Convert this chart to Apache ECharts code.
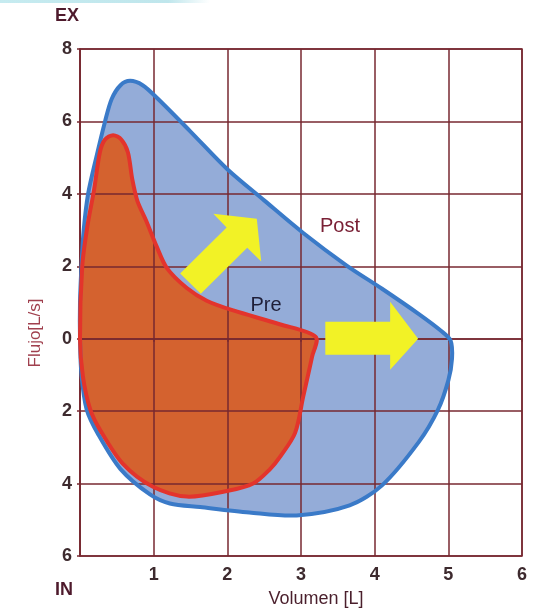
<!DOCTYPE html>
<html>
<head>
<meta charset="utf-8">
<script src="https://cdn.jsdelivr.net/npm/echarts@6/dist/echarts.min.js"></script>
<style>html,body{margin:0;padding:0;background:#fff;}#c{width:552px;height:612px;}</style>
</head>
<body>
<div id="c"></div>
<script>
// Axis ticks
const xTicks = [0, 1, 2, 3, 4, 5, 6];
const yTicks = [-6, -4, -2, 0, 2, 4, 6, 8];

// Post (blue) loop: volume [L], flow [L/s]
const postVol  = [0.00, 0.00, 0.02, 0.05, 0.11, 0.22, 0.34, 0.43, 0.55, 0.68, 0.85, 1.05, 1.50, 2.00, 2.50, 3.03, 3.62, 4.10, 4.60, 4.90, 5.03, 5.05, 5.00, 4.86, 4.60, 4.10, 3.66, 2.94, 2.30, 1.63, 1.22, 0.95, 0.55, 0.25, 0.09, 0.02];
const postFlow = [0.00, 1.00, 2.00, 3.00, 4.00, 5.00, 6.00, 6.62, 7.00, 7.12, 7.00, 6.64, 5.72, 4.68, 3.82, 2.92, 2.02, 1.38, 0.68, 0.22, -0.05, -0.55, -1.15, -1.96, -2.85, -4.05, -4.60, -4.88, -4.80, -4.65, -4.55, -4.30, -3.60, -2.65, -1.95, -1.00];

// Pre (red) loop
const preVol  = [0.00, 0.03, 0.10, 0.19, 0.27, 0.34, 0.45, 0.56, 0.65, 0.71, 0.78, 0.90, 1.04, 1.18, 1.45, 1.72, 2.08, 2.71, 3.20, 3.15, 3.03, 2.92, 2.72, 2.58, 2.35, 2.01, 1.45, 0.99, 0.58, 0.27, 0.14, 0.04];
const preFlow = [0.00, 2.00, 3.10, 4.10, 5.15, 5.50, 5.62, 5.50, 5.15, 4.40, 3.80, 3.25, 2.55, 1.95, 1.40, 1.05, 0.78, 0.40, 0.05, -0.50, -1.60, -2.60, -3.25, -3.60, -4.00, -4.20, -4.36, -4.09, -3.45, -2.51, -1.96, -1.05];

// Arrows
const arrow1Vol  = [1.36, 1.64, 2.27, 2.46, 2.40, 1.81, 1.99];
const arrow1Flow = [1.80, 1.24, 2.51, 2.13, 3.31, 3.45, 3.07];
const arrow2Vol  = [3.33, 4.21, 4.21, 4.59, 4.21, 4.21, 3.33];
const arrow2Flow = [0.47, 0.47, 1.02, 0.00, -0.86, -0.44, -0.44];

function polySeries(xs, ys, style, z, smooth) {
  return {
    type: 'custom', coordinateSystem: 'cartesian2d', z: z, silent: true,
    data: [[xs[0], ys[0]]],
    renderItem: function (params, api) {
      const pts = xs.map((x, i) => api.coord([x, ys[i]]));
      return { type: 'polygon', shape: { points: pts, smooth: smooth }, style: style };
    }
  };
}

const grid = '#772830';
const chart = echarts.init(document.getElementById('c'));
chart.setOption({
  backgroundColor: '#fff',
  animation: false,
  grid: { left: 80, right: 30, top: 49, bottom: 56, show: true, borderColor: grid, borderWidth: 1.5 },
  xAxis: {
    type: 'value', min: xTicks[0], max: xTicks[xTicks.length - 1], interval: 1, z: 3,
    axisLine: { show: true, lineStyle: { color: grid, width: 1.5 } },
    axisTick: { show: true, length: 3, lineStyle: { color: grid, width: 1.5 } },
    splitLine: { show: true, lineStyle: { color: grid, width: 1.5 } },
    axisLabel: { margin: 10, color: '#3d2a2e', fontSize: 18, fontFamily: 'Liberation Sans', fontWeight: 'bold',
      formatter: v => (v === 0 ? '' : String(v)) }
  },
  yAxis: {
    type: 'value', min: yTicks[0], max: yTicks[yTicks.length - 1], interval: 2, z: 3,
    axisLine: { show: true, lineStyle: { color: grid, width: 1.5 } },
    axisTick: { show: true, length: 3, lineStyle: { color: grid, width: 1.5 } },
    splitLine: { show: true, lineStyle: { color: grid, width: 1.5 } },
    axisLabel: { margin: 8, color: '#3d2a2e', fontSize: 18, fontFamily: 'Liberation Sans', fontWeight: 'bold',
      formatter: v => String(Math.abs(v)) }
  },
  series: [
    polySeries(postVol, postFlow, { fill: '#94acd8' }, 1, 0.3),
    polySeries(preVol, preFlow, { fill: '#d4622f' }, 2, 0.3),
    polySeries(postVol, postFlow, { fill: 'none', stroke: '#3a7ac8', lineWidth: 4, lineJoin: 'round' }, 5, 0.3),
    polySeries(preVol, preFlow, { fill: 'none', stroke: '#e3342c', lineWidth: 4, lineJoin: 'round' }, 6, 0.3),
    polySeries(arrow1Vol, arrow1Flow, { fill: '#f2f226' }, 7, 0),
    polySeries(arrow2Vol, arrow2Flow, { fill: '#f2f226' }, 7, 0)
  ],
  graphic: [
    { type: 'rect', left: 0, top: 0, shape: { width: 210, height: 3 },
      style: { fill: new echarts.graphic.LinearGradient(0, 0, 1, 0, [{ offset: 0, color: '#c6ebf0' }, { offset: 0.8, color: '#bfe6ec' }, { offset: 1, color: '#ffffff' }]) } },
    { type: 'text', x: 67, y: 16, z: 20, style: { text: 'EX', fill: '#4e1a2c', font: 'bold 18px "Liberation Sans Narrow", "Liberation Sans"', align: 'center', verticalAlign: 'middle' } },
    { type: 'text', x: 64, y: 590, z: 20, style: { text: 'IN', fill: '#4e1a2c', font: 'bold 18px "Liberation Sans Narrow", "Liberation Sans"', align: 'center', verticalAlign: 'middle' } },
    { type: 'text', x: 316, y: 599, z: 20, style: { text: 'Volumen [L]', fill: '#4a1f2c', font: '18px "Liberation Sans Narrow", "Liberation Sans"', align: 'center', verticalAlign: 'middle' } },
    { type: 'text', x: 35, y: 333, rotation: Math.PI / 2, z: 20, style: { text: 'Flujo[L/s]', fill: '#a0404e', font: '17px "Liberation Sans Narrow", "Liberation Sans"', align: 'center', verticalAlign: 'middle' } },
    { type: 'text', x: 340, y: 226, z: 20, style: { text: 'Post', fill: '#7a2035', font: '20px "Liberation Sans"', align: 'center', verticalAlign: 'middle' } },
    { type: 'text', x: 266, y: 305, z: 20, style: { text: 'Pre', fill: '#1e1e38', font: '20px "Liberation Sans"', align: 'center', verticalAlign: 'middle' } }
  ]
});
</script>
</body>
</html>
